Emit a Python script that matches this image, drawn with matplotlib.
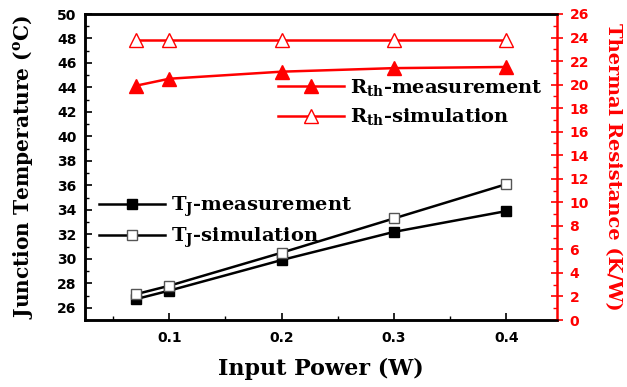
import matplotlib
matplotlib.use("Agg")
import matplotlib.pyplot as plt
from matplotlib.ticker import MultipleLocator
from matplotlib.font_manager import FontProperties

SERIF = 'DejaVu Serif'
plt.rcParams['mathtext.fontset'] = 'custom'
plt.rcParams['mathtext.rm'] = SERIF + ':bold'
plt.rcParams['mathtext.it'] = SERIF + ':bold'
plt.rcParams['mathtext.bf'] = SERIF + ':bold'

power = [0.07, 0.1, 0.2, 0.3, 0.4]
tj_meas = [26.7, 27.4, 29.9, 32.2, 33.9]
tj_sim = [27.1, 27.8, 30.5, 33.3, 36.1]
rth_meas = [19.9, 20.5, 21.1, 21.4, 21.5]
rth_sim = [23.8, 23.8, 23.8, 23.8, 23.8]

RED = '#ff0000'
fig = plt.figure(figsize=(6.27, 3.87), dpi=100)
ax = fig.add_axes([85/627, 1-320/387, (557-85)/627, (320-14)/387])
ax2 = ax.twinx()

l1, = ax.plot(power, tj_meas, color='black', lw=1.8, marker='s', ms=7,
              mfc='black', mec='black', label=r'T$_{\rm J}$-measurement')
l2, = ax.plot(power, tj_sim, color='black', lw=1.8, marker='s', ms=7,
              mfc='white', mec='#555555', mew=1.0, label=r'T$_{\rm J}$-simulation')
r1, = ax2.plot(power, rth_meas, color=RED, lw=1.8, marker='^', ms=10,
               mfc=RED, mec=RED, label=r'R$_{\rm th}$-measurement')
r2, = ax2.plot(power, rth_sim, color=RED, lw=1.8, marker='^', ms=10,
               mfc='white', mec=RED, mew=1.0, label=r'R$_{\rm th}$-simulation')

ax.set_xlim(0.025, 0.445)
ax.set_ylim(25, 50)
ax2.set_ylim(0, 26)

ax.xaxis.set_major_locator(MultipleLocator(0.1))
ax.xaxis.set_minor_locator(MultipleLocator(0.05))
ax.set_yticks(list(range(26, 51, 2)))
ax.yaxis.set_minor_locator(MultipleLocator(1))
ax2.yaxis.set_major_locator(MultipleLocator(2))
ax2.yaxis.set_minor_locator(MultipleLocator(1))

tick_font = FontProperties(family='DejaVu Sans', weight='bold', size=10)
ax.tick_params(axis='both', which='major', direction='in', length=5, width=1.2, pad=6)
ax.tick_params(axis='both', which='minor', direction='in', length=3, width=1.0)
ax.tick_params(axis='x', which='major', pad=8)
ax2.tick_params(axis='y', which='major', direction='inout', length=8, width=1.2, colors=RED, pad=5)
ax2.tick_params(axis='y', which='minor', direction='in', length=3, width=1.0, colors=RED)
for lab in ax.get_xticklabels() + ax.get_yticklabels():
    lab.set_fontproperties(tick_font)
for lab in ax2.get_yticklabels():
    lab.set_fontproperties(tick_font)
    lab.set_color(RED)

for sp in ['left', 'bottom', 'top']:
    ax.spines[sp].set_linewidth(1.8)
    ax2.spines[sp].set_linewidth(1.8)
ax2.spines['right'].set_color(RED)
ax2.spines['right'].set_linewidth(1.8)
ax.spines['right'].set_visible(False)

label_font = dict(family=SERIF, weight='bold')
ax.set_xlabel('Input Power (W)', fontsize=16, labelpad=9, **label_font)
ax.set_ylabel(r'Junction Temperature ($^{\rm o}$C)', fontsize=14.5, labelpad=16, **label_font)
ax2.set_ylabel('Thermal Resistance (K/W)', fontsize=14, color=RED, rotation=270,
               labelpad=24, **label_font)

leg_font = FontProperties(family=SERIF, weight='bold', size=14)
leg1 = ax2.legend(handles=[l1, l2], loc='upper left', bbox_to_anchor=(0.0, 0.455),
                  frameon=False, prop=leg_font, handlelength=3.4, handletextpad=0.3,
                  labelspacing=0.35, borderaxespad=0.3)
ax2.add_artist(leg1)
ax2.legend(handles=[r1, r2], loc='upper left', bbox_to_anchor=(0.38, 0.84),
           frameon=False, prop=leg_font, handlelength=3.4, handletextpad=0.3,
           labelspacing=0.45, borderaxespad=0.3)

fig.savefig('out.png', dpi=100)
